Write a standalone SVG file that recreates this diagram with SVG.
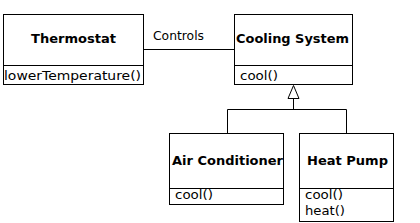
<svg xmlns="http://www.w3.org/2000/svg" width="420" height="223" viewBox="0 0 420 223">
<style>
.box{fill:#fff;stroke:#000;stroke-width:1}
.ln{fill:none;stroke:#000;stroke-width:1}
.t{font-family:"DejaVu Sans",Verdana,sans-serif;font-size:12px;fill:#000}
.b{font-weight:bold}
</style>
<rect width="420" height="223" fill="#fff"/>
<g id="connectors">
<line class="ln" x1="143.5" y1="49.5" x2="234.5" y2="49.5"/>
<text class="t" x="153" y="40" textLength="51" lengthAdjust="spacingAndGlyphs">Controls</text>
<polyline class="ln" points="227.5,133.5 227.5,109.5 346.5,109.5 346.5,133.5"/>
<line class="ln" x1="293.5" y1="109.5" x2="293.5" y2="98.5"/>
<polygon class="box" points="293.5,85.5 288,98.5 299,98.5"/>
</g>
<g id="thermostat">
<rect class="box" x="3.5" y="14.5" width="140" height="70"/>
<line class="ln" x1="3.5" y1="65.5" x2="143.5" y2="65.5"/>
<text class="t b" x="31" y="43" textLength="85" lengthAdjust="spacingAndGlyphs">Thermostat</text>
<text class="t" x="4" y="80" textLength="137" lengthAdjust="spacingAndGlyphs">lowerTemperature()</text>
</g>
<g id="cooling-system">
<rect class="box" x="234.5" y="14.5" width="118" height="70"/>
<line class="ln" x1="234.5" y1="65.5" x2="352.5" y2="65.5"/>
<text class="t b" x="236" y="43" textLength="113" lengthAdjust="spacingAndGlyphs">Cooling System</text>
<text class="t" x="240" y="80" textLength="38" lengthAdjust="spacingAndGlyphs">cool()</text>
</g>
<g id="air-conditioner">
<rect class="box" x="169.5" y="133.5" width="114" height="71"/>
<line class="ln" x1="169.5" y1="188.5" x2="283.5" y2="188.5"/>
<text class="t b" x="172" y="165" textLength="111" lengthAdjust="spacingAndGlyphs">Air Conditioner</text>
<text class="t" x="175" y="199" textLength="38" lengthAdjust="spacingAndGlyphs">cool()</text>
</g>
<g id="heat-pump">
<rect class="box" x="299.5" y="133.5" width="94" height="88"/>
<line class="ln" x1="299.5" y1="188.5" x2="393.5" y2="188.5"/>
<text class="t b" x="307" y="165" textLength="81" lengthAdjust="spacingAndGlyphs">Heat Pump</text>
<text class="t" x="305" y="199" textLength="38" lengthAdjust="spacingAndGlyphs">cool()</text>
<text class="t" x="305" y="215" textLength="40" lengthAdjust="spacingAndGlyphs">heat()</text>
</g>
</svg>
